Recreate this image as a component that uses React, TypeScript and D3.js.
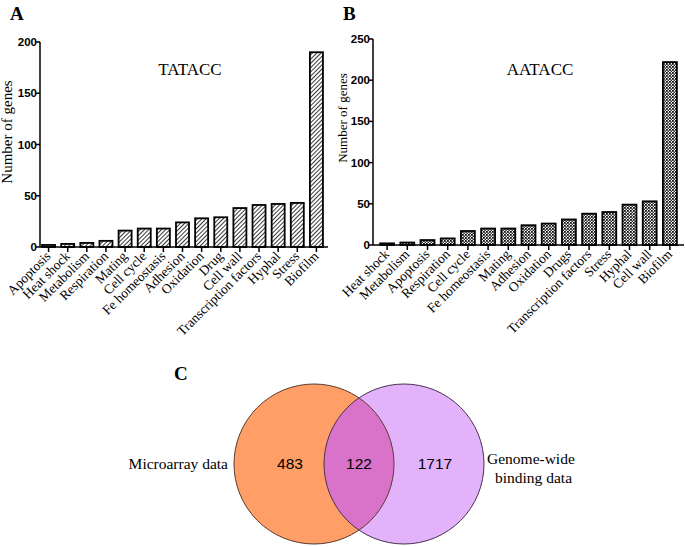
import React from 'react'
import * as d3 from 'd3'

// panel A: TATACC
const catsA = ['Apoptosis', 'Heat shock', 'Metabolism', 'Respiration', 'Mating', 'Cell cycle', 'Fe homeostasis', 'Adhesion', 'Oxidation', 'Drug', 'Cell wall', 'Transcription factors', 'Hyphal', 'Stress', 'Biofilm']
const valsA = [2, 3, 4, 6, 16, 18, 18, 24, 28, 29, 38, 41, 42, 43, 190]
const ticksA = [0, 50, 100, 150, 200]

// panel B: AATACC
const catsB = ['Heat shock', 'Metabolism', 'Apoptosis', 'Respiration', 'Cell cycle', 'Fe homeostasis', 'Mating', 'Adhesion', 'Oxidation', 'Drugs', 'Transcription factors', 'Stress', 'Hyphal', 'Cell wall', 'Biofilm']
const valsB = [2, 3, 6, 8, 17, 20, 20, 24, 26, 31, 38, 40, 49, 53, 222]
const ticksB = [0, 50, 100, 150, 200, 250]

// panel C: venn
const vennSets = ['Microarray data', 'Genome-wide binding data']
const vennCounts = [483, 122, 1717]

const serif = '"Liberation Serif", "Times New Roman", serif'
const sans = '"Liberation Sans", Arial, sans-serif'

interface BarPanelProps {
  cats: string[]
  vals: number[]
  ticks: number[]
  xRange: [number, number]
  axisX: number
  axisEnd: number
  yRange: [number, number]
  yMax: number
  pad: number
  fill: string
  title: string
  titleX: number
  yLabelX: number
  yLabelY: number
  yLabelSize: number
}

const BarPanel = (p: BarPanelProps) => {
  const x = d3.scaleBand().domain(p.cats).range(p.xRange).paddingInner(p.pad).paddingOuter(p.pad / 2)
  const y = d3.scaleLinear().domain([0, p.yMax]).range(p.yRange)
  const y0 = y(0)
  return (
    <g>
      <text x={p.titleX} y={75} fontFamily={serif} fontSize={17} textAnchor="middle">{p.title}</text>
      <text transform={`translate(${p.yLabelX},${p.yLabelY}) rotate(-90)`} fontFamily={serif} fontSize={p.yLabelSize} textAnchor="middle">Number of genes</text>
      {p.cats.map((c, i) => (
        <rect key={c} x={x(c)} y={y(p.vals[i])} width={x.bandwidth()} height={y0 - y(p.vals[i])}
          fill={p.fill} stroke="#000" strokeWidth={1.8} />
      ))}
      <line x1={p.axisX} x2={p.axisX} y1={y(p.yMax)} y2={y0} stroke="#000" strokeWidth={1.5} />
      <line x1={p.axisX} x2={p.axisEnd} y1={y0} y2={y0} stroke="#000" strokeWidth={1.5} />
      {p.ticks.map((t) => (
        <g key={t}>
          <line x1={p.axisX - 4} x2={p.axisX} y1={y(t)} y2={y(t)} stroke="#000" strokeWidth={1.5} />
          <text x={p.axisX - 3} y={y(t) + 4} fontFamily={sans} fontWeight="bold" fontSize={11.5} textAnchor="end">{t}</text>
        </g>
      ))}
      {p.cats.map((c) => {
        const cx = (x(c) as number) + x.bandwidth() / 2
        return (
          <g key={c}>
            <line x1={cx} x2={cx} y1={y0} y2={y0 + 5} stroke="#000" strokeWidth={1.5} />
            <text transform={`translate(${cx + 3},${y0 + 10}) rotate(-45)`} fontFamily={serif} fontSize={13.5} textAnchor="end">{c}</text>
          </g>
        )
      })}
    </g>
  )
}

const Venn = () => {
  const cx = d3.scaleLinear().domain([0, 1]).range([314, 404])
  const cy = 464
  const r = 80
  return (
    <g>
      <defs>
        <clipPath id="clipLeft">
          <circle cx={cx(0)} cy={cy} r={r} />
        </clipPath>
      </defs>
      <circle cx={cx(0)} cy={cy} r={r} fill="#FF9E66" />
      <circle cx={cx(1)} cy={cy} r={r} fill="#E2B2FA" />
      <circle cx={cx(1)} cy={cy} r={r} fill="#D873C9" clipPath="url(#clipLeft)" />
      <circle cx={cx(0)} cy={cy} r={r} fill="none" stroke="#5a3a30" strokeWidth={1} />
      <circle cx={cx(1)} cy={cy} r={r} fill="none" stroke="#4a3050" strokeWidth={1} />
      <text x={cx(0) - 24} y={cy + 5} fontFamily={sans} fontSize={15.5} textAnchor="middle">{vennCounts[0]}</text>
      <text x={(cx(0) + cx(1)) / 2} y={cy + 5} fontFamily={sans} fontSize={15.5} textAnchor="middle">{vennCounts[1]}</text>
      <text x={cx(1) + 31} y={cy + 5} fontFamily={sans} fontSize={15.5} textAnchor="middle">{vennCounts[2]}</text>
      <text x={228} y={cy + 5} fontFamily={serif} fontSize={15.5} textAnchor="end">{vennSets[0]}</text>
      <text x={487} y={cy} fontFamily={serif} fontSize={15.5}>Genome-wide</text>
      <text x={495} y={cy + 19} fontFamily={serif} fontSize={15.5}>binding data</text>
    </g>
  )
}

const App = () => {
  return (
    <svg width={685} height={547} style={{ position: 'absolute', left: 0, top: 0, background: '#fff' }}>
      <defs>
        <pattern id="hatchA" patternUnits="userSpaceOnUse" width={3} height={3} patternTransform="rotate(45)">
          <rect width={3} height={3} fill="#fff" />
          <line x1={0} y1={0} x2={0} y2={3} stroke="#222" strokeWidth={1.8} />
        </pattern>
        <pattern id="dotB" patternUnits="userSpaceOnUse" width={3} height={3}>
          <rect width={3} height={3} fill="#fff" />
          <rect width={1.8} height={1.8} fill="#111" />
          <rect x={1.5} y={1.5} width={1.5} height={1.5} fill="#333" />
        </pattern>
      </defs>
      <text x={10} y={20} fontFamily={serif} fontWeight="bold" fontSize={19}>A</text>
      <text x={343} y={20} fontFamily={serif} fontWeight="bold" fontSize={19}>B</text>
      <text x={174} y={380} fontFamily={serif} fontWeight="bold" fontSize={19}>C</text>
      <BarPanel cats={catsA} vals={valsA} ticks={ticksA} xRange={[39, 326]} axisX={40} axisEnd={328}
        yRange={[247, 42]} yMax={200} pad={0.32} fill="url(#hatchA)" title="TATACC" titleX={190}
        yLabelX={12} yLabelY={132} yLabelSize={15} />
      <BarPanel cats={catsB} vals={valsB} ticks={ticksB} xRange={[377, 680]} axisX={373} axisEnd={684}
        yRange={[245, 39]} yMax={250} pad={0.31} fill="url(#dotB)" title="AATACC" titleX={540}
        yLabelX={347} yLabelY={118} yLabelSize={13} />
      <Venn />
    </svg>
  )
}

export default App
